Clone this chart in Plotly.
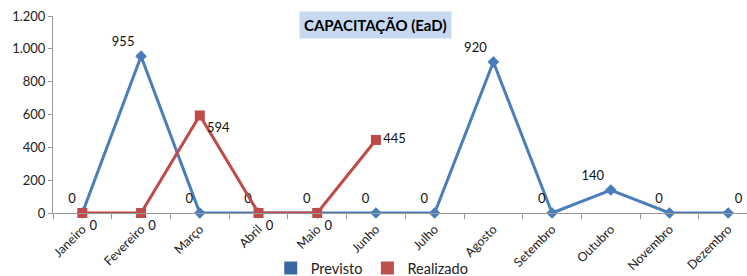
import plotly.graph_objects as go

months = ["Janeiro", "Fevereiro", "Março", "Abril", "Maio", "Junho", "Julho",
          "Agosto", "Setembro", "Outubro", "Novembro", "Dezembro"]
previsto = [0, 955, 0, 0, 0, 0, 0, 920, 0, 140, 0, 0]
realizado_months = months[:6]
realizado = [0, 0, 594, 0, 0, 445]
yticks = [0, 200, 400, 600, 800, 1000, 1200]

blue = "#4A7EBB"
red = "#BE4B48"
font = "Lato, Open Sans, sans-serif"

prev_pos = ["top left"] * 11 + ["top right"]
real_pos = ["bottom right"] * 5 + ["middle right"]

fig = go.Figure()
fig.add_trace(go.Scatter(
    x=months, y=previsto, mode="lines+markers+text", name="Previsto",
    line=dict(color=blue, width=3), marker=dict(symbol="diamond", size=9, color=blue),
    text=[str(v) for v in previsto], textposition=prev_pos,
    textfont=dict(family=font, size=13, color="#111"),
    cliponaxis=False, showlegend=False))
fig.add_trace(go.Scatter(
    x=realizado_months, y=realizado, mode="lines+markers+text", name="Realizado",
    line=dict(color=red, width=3), marker=dict(symbol="square", size=10, color=red),
    text=[str(v) for v in realizado], textposition=real_pos,
    textfont=dict(family=font, size=13, color="#111"),
    cliponaxis=False, showlegend=False))
# legend swatches
fig.add_trace(go.Scatter(x=[None], y=[None], mode="markers", name="Previsto",
                         marker=dict(symbol="square", size=13, color="#3A679F")))
fig.add_trace(go.Scatter(x=[None], y=[None], mode="markers", name="Realizado",
                         marker=dict(symbol="square", size=13, color="#C0504D")))

fig.add_annotation(text="<b>CAPACITAÇÃO (EaD)</b>", xref="paper", yref="paper",
                   x=0.464, y=0.954, xanchor="center", yanchor="middle", showarrow=False,
                   font=dict(family=font, size=15, color="#000"),
                   bgcolor="#C6D9F1", borderpad=4)

fig.update_layout(
    width=747, height=276,
    margin=dict(l=53, r=0, t=16, b=63, autoexpand=False),
    paper_bgcolor="white", plot_bgcolor="white",
    separators=",.",
    font=dict(family=font, size=12, color="#222"),
    legend=dict(orientation="h", x=0.46, xanchor="center", y=-0.28, yanchor="middle",
                font=dict(family=font, size=14.5, color="#222"), itemwidth=30,
                tracegroupgap=0, bgcolor="rgba(0,0,0,0)"),
)
fig.update_xaxes(type="category", categoryorder="array", categoryarray=months,
                 range=[-0.5, 11.32], tickson="boundaries", ticks="outside", ticklen=5,
                 tickcolor="#999", showline=True, linecolor="#999", linewidth=1,
                 showgrid=False, zeroline=False, tickangle=-45, automargin=False,
                 ticklabelstandoff=3,
                 tickfont=dict(family=font, size=12.5, color="#222"))
fig.update_yaxes(range=[0, 1200], tickvals=yticks, tickformat=",d", ticks="outside",
                 ticklen=4, tickcolor="#999", showline=True, linecolor="#999",
                 linewidth=1, showgrid=False, zeroline=False, automargin=False,
                 tickfont=dict(family=font, size=13, color="#222"))

fig.write_html("out.html", config={"displayModeBar": False},
               post_script="document.body.style.margin='0';")
